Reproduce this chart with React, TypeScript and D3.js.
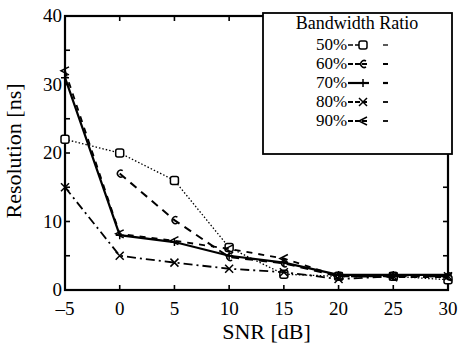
import * as d3 from 'd3'

const snr = [-5, 0, 5, 10, 15, 20, 25, 30]
const ratios = ['50%', '60%', '70%', '80%', '90%']
const bw50 = [22, 20, 16, 6.2, 2.3, 2, 2, 1.5]
const bw60 = [null, 17, 10.2, 4.8, 3.9, 2, 2, 2]
const bw70 = [31, 8, 7, 5, 4, 2.2, 2.2, 2.2]
const bw80 = [15, 5, 4, 3.1, 2.6, 1.6, 2, 2]
const bw90 = [32, 8.2, 7.2, 6, 4.6, 2, 1.9, 1.9]
const xTicks = [-5, 0, 5, 10, 15, 20, 25, 30]
const yTicks = [0, 10, 20, 30, 40]

const W = 461
const H = 349
const MARGIN = {top: 16, right: 13, bottom: 59, left: 65}
const FONT = 'Liberation Serif, DejaVu Serif, serif'

type Style = {dash: string; width: number; marker: string}
const STYLES: Style[] = [
  {dash: '1.5 2', width: 1.3, marker: 'square'},
  {dash: '8 6', width: 2, marker: 'c'},
  {dash: '', width: 2.2, marker: 'plus'},
  {dash: '9 4 2 4', width: 1.8, marker: 'x'},
  {dash: '6 6', width: 1.8, marker: 'lt'},
]

const Marker = ({kind, x, y}: {kind: string; x: number; y: number}) => {
  const s = 4
  if (kind === 'square')
    return <rect x={x - s} y={y - s} width={2 * s} height={2 * s} rx={2} fill="#fff" stroke="#000" strokeWidth={1.5} />
  if (kind === 'c')
    return <path d={`M${x + 3},${y - 3} A3.5,3.5 0 1 0 ${x + 3},${y + 3}`} fill="none" stroke="#000" strokeWidth={1.5} />
  if (kind === 'plus')
    return <path d={`M${x - s},${y}H${x + s}M${x},${y - s}V${y + s}`} stroke="#000" strokeWidth={1.5} />
  if (kind === 'x')
    return <path d={`M${x - s},${y - s}L${x + s},${y + s}M${x - s},${y + s}L${x + s},${y - s}`} stroke="#000" strokeWidth={1.5} />
  return <path d={`M${x + s},${y - s}L${x - s},${y}L${x + s},${y + s}`} fill="none" stroke="#000" strokeWidth={1.5} />
}

export default function App() {
  const series = [bw50, bw60, bw70, bw80, bw90]
  const bw = W - MARGIN.left - MARGIN.right
  const bh = H - MARGIN.top - MARGIN.bottom
  const xScale = d3.scaleLinear().domain([-5, 30]).range([0, bw])
  const yScale = d3.scaleLinear().domain([0, 40]).range([bh, 0])

  const lineGen = d3
    .line<number | null>()
    .defined(d => d !== null)
    .x((_, i) => xScale(snr[i]))
    .y(d => yScale(d as number))

  const legX = 263 - MARGIN.left
  const legY = 13 - MARGIN.top

  return (
    <svg width={W} height={H} style={{position: 'absolute', left: 0, top: 0, background: '#fff'}}>
      <g transform={`translate(${MARGIN.left},${MARGIN.top})`} fontFamily={FONT}>
        {/* frame */}
        <rect x={0} y={0} width={bw} height={bh} fill="none" stroke="#000" strokeWidth={2.2} />
        {/* ticks */}
        {xTicks.slice(1, -1).map(v => (
          <g key={'xt' + v}>
            <line x1={xScale(v)} x2={xScale(v)} y1={bh} y2={bh - 5} stroke="#000" strokeWidth={1.6} />
            <line x1={xScale(v)} x2={xScale(v)} y1={0} y2={5} stroke="#000" strokeWidth={1.6} />
          </g>
        ))}
        {d3.range(5, 40, 5).map(v => (
          <g key={'yt' + v}>
            <line x1={0} x2={5} y1={yScale(v)} y2={yScale(v)} stroke="#000" strokeWidth={1.6} />
            <line x1={bw} x2={bw - 5} y1={yScale(v)} y2={yScale(v)} stroke="#000" strokeWidth={1.6} />
          </g>
        ))}
        {xTicks.map(v => (
          <text key={'xl' + v} x={xScale(v)} y={bh + 25} textAnchor="middle" fontSize={19}>
            {v < 0 ? '\u2013' + Math.abs(v) : v}
          </text>
        ))}
        {yTicks.map(v => (
          <text key={'yl' + v} x={-3} y={yScale(v) + 6} textAnchor="end" fontSize={19}>
            {v}
          </text>
        ))}
        <text x={bw / 2 + 10} y={bh + 49} textAnchor="middle" fontSize={22}>
          SNR [dB]
        </text>
        <text transform={`translate(${-44},${bh / 2 - 2}) rotate(-90)`} textAnchor="middle" fontSize={22}>
          Resolution [ns]
        </text>

        {/* series */}
        {series.map((vals, si) => (
          <g key={'s' + si}>
            <path
              d={lineGen(vals) || ''}
              fill="none"
              stroke="#000"
              strokeWidth={STYLES[si].width}
              strokeDasharray={STYLES[si].dash}
            />
            {vals.map((v, i) =>
              v === null ? null : <Marker key={i} kind={STYLES[si].marker} x={xScale(snr[i])} y={yScale(v)} />
            )}
          </g>
        ))}

        {/* legend */}
        <g transform={`translate(${legX},${legY})`}>
          <rect x={0} y={0} width={189} height={141} fill="#fff" stroke="#000" strokeWidth={1.8} />
          <text x={94} y={16} textAnchor="middle" fontSize={18}>
            Bandwidth Ratio
          </text>
          {ratios.map((r, i) => {
            const cy = 32 + i * 19
            const st = STYLES[i]
            return (
              <g key={r}>
                <text x={53} y={cy + 5} fontSize={17}>
                  {r}
                </text>
                <line x1={85} x2={106} y1={cy} y2={cy} stroke="#000" strokeWidth={st.width} strokeDasharray={st.dash ? '5 2' : ''} />
                <line x1={120} x2={125} y1={cy} y2={cy} stroke="#000" strokeWidth={st.width} />
                <Marker kind={st.marker} x={100} y={cy} />
              </g>
            )
          })}
        </g>
      </g>
    </svg>
  )
}
